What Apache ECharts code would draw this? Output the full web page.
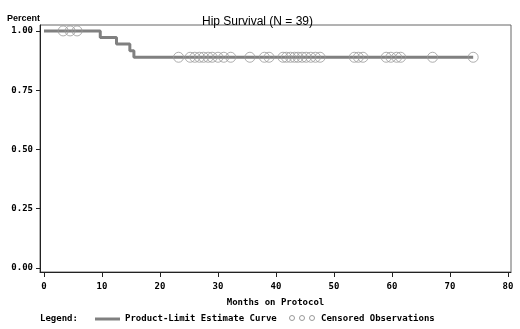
<!DOCTYPE html>
<html>
<head>
<meta charset="utf-8">
<script src="https://cdn.jsdelivr.net/npm/echarts@6/dist/echarts.min.js"></script>
<style>
  html, body { margin: 0; padding: 0; background: #fff; }
  #chart { width: 520px; height: 329px; }
</style>
</head>
<body>
<div id="chart"></div>
<script>
// product-limit estimate: times where the estimate changes and the level after it
const stepTimes = [0, 9.7, 12.5, 14.8, 15.5, 74];
const stepLevels = [1, 0.9722, 0.9444, 0.9167, 0.8889, 0.8889];

// censored observations (months)
const censoredTimes = [
  3.3, 4.5, 5.7,
  23.2,
  25.2, 26.0, 26.8, 27.5, 28.3, 29.0, 30.0, 31.0, 32.2,
  35.5,
  38.0, 38.8,
  41.2, 41.8, 42.5, 43.2, 43.8, 44.5, 45.2, 46.0, 46.8, 47.6,
  53.5, 54.2, 55.0,
  59.0, 59.8, 60.8, 61.5,
  67.0, 74.0
];

const xTicks = [0, 10, 20, 30, 40, 50, 60, 70, 80];
const yTicks = [0, 0.25, 0.5, 0.75, 1];

const monoFont = 'DejaVu Sans Mono';

// estimate at a given time (for placing the censor marks on the curve)
function levelAt(t) {
  let v = stepLevels[0];
  for (let i = 0; i < stepTimes.length; i++) {
    if (stepTimes[i] <= t) v = stepLevels[i];
  }
  return v;
}

const curveData = stepTimes.map((t, i) => [t, stepLevels[i]]);
const censorData = censoredTimes.map(t => [t, levelAt(t)]);

const myChart = echarts.init(document.getElementById('chart'), null, { renderer: 'canvas' });

const option = {
  backgroundColor: '#fff',
  animation: false,
  grid: {
    left: 40, right: 9, top: 25, bottom: 57,
    show: true, borderColor: '#666', borderWidth: 1
  },
  title: {
    text: 'Hip Survival (N = 39)',
    left: 197, top: 11,
    textStyle: { fontFamily: 'Liberation Sans', fontSize: 12, fontWeight: 'normal', color: '#000' }
  },
  xAxis: {
    type: 'value',
    min: -0.69, max: 80.52,
    name: 'Months on Protocol',
    nameLocation: 'middle',
    nameGap: 26,
    nameTextStyle: { fontFamily: monoFont, fontSize: 9, fontWeight: 'bold', color: '#000' },
    axisLine: { show: true, onZero: false, lineStyle: { color: '#222', width: 1 } },
    axisTick: { show: true, length: 5, customValues: xTicks, lineStyle: { color: '#222' } },
    axisLabel: {
      customValues: xTicks, margin: 10,
      fontFamily: monoFont, fontSize: 9, fontWeight: 'bold', color: '#000'
    },
    splitLine: { show: false }
  },
  yAxis: {
    type: 'value',
    min: -0.017, max: 1.025,
    axisLine: { show: true, onZero: false, lineStyle: { color: '#222', width: 1 } },
    axisTick: { show: true, length: 4, customValues: yTicks, lineStyle: { color: '#222' } },
    axisLabel: {
      customValues: yTicks, margin: 7,
      formatter: v => v.toFixed(2),
      fontFamily: monoFont, fontSize: 9, fontWeight: 'bold', color: '#000'
    },
    splitLine: { show: false }
  },
  series: [
    {
      name: 'Product-Limit Estimate Curve',
      type: 'line',
      step: 'end',
      data: curveData,
      showSymbol: false,
      lineStyle: { color: '#808080', width: 3 },
      z: 2
    },
    {
      name: 'Censored Observations',
      type: 'scatter',
      data: censorData,
      symbol: 'circle',
      symbolSize: 10,
      itemStyle: { color: 'rgba(255,255,255,0)', borderColor: '#9a9a9a', borderWidth: 1 },
      z: 3
    }
  ],
  graphic: [
    {
      type: 'text', left: 7, top: 14,
      style: { text: 'Percent', font: 'bold 9px Liberation Sans', fill: '#000' }
    },
    {
      type: 'text', x: 40, y: 319,
      style: { text: 'Legend:', font: 'bold 9px ' + monoFont, fill: '#000', verticalAlign: 'middle' }
    },
    {
      type: 'line', shape: { x1: 95, y1: 319, x2: 120, y2: 319 },
      style: { stroke: '#808080', lineWidth: 3 }
    },
    {
      type: 'text', x: 125, y: 319,
      style: { text: 'Product-Limit Estimate Curve', font: 'bold 9px ' + monoFont, fill: '#000', verticalAlign: 'middle' }
    },
    { type: 'circle', shape: { cx: 292, cy: 318, r: 2.5 }, style: { fill: 'none', stroke: '#9a9a9a', lineWidth: 1 } },
    { type: 'circle', shape: { cx: 302, cy: 318, r: 2.5 }, style: { fill: 'none', stroke: '#9a9a9a', lineWidth: 1 } },
    { type: 'circle', shape: { cx: 312, cy: 318, r: 2.5 }, style: { fill: 'none', stroke: '#9a9a9a', lineWidth: 1 } },
    {
      type: 'text', x: 321, y: 319,
      style: { text: 'Censored Observations', font: 'bold 9px ' + monoFont, fill: '#000', verticalAlign: 'middle' }
    }
  ]
};

myChart.setOption(option);
</script>
</body>
</html>
